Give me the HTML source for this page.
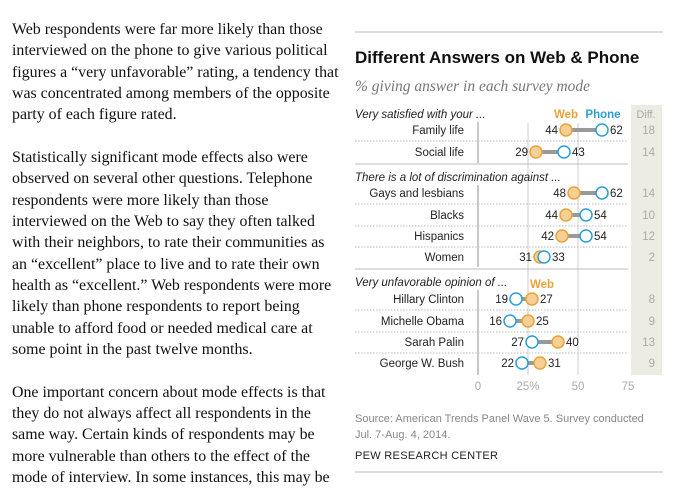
<!DOCTYPE html>
<html><head><meta charset="utf-8">
<style>
html,body{margin:0;padding:0;width:686px;height:490px;overflow:hidden;background:#fff}
body{position:relative}
#left{position:absolute;left:0;top:0;width:350px;height:490px;font-family:"Liberation Serif",serif;font-size:15.9px;color:#111}
#left div{position:absolute;left:12px;height:20px;line-height:20px;white-space:nowrap}
svg{position:absolute;left:0;top:0}
</style></head><body>
<div id="left"></div>
<svg id="chart" width="686" height="490" font-family="Liberation Sans, sans-serif"></svg>
<script>
const lines=["Web respondents were far more likely than those","interviewed on the phone to give various political","figures a “very unfavorable” rating, a tendency that","was concentrated among members of the opposite","party of each figure rated.","",
"Statistically significant mode effects also were","observed on several other questions. Telephone","respondents were more likely than those","interviewed on the Web to say they often talked","with their neighbors, to rate their communities as","an “excellent” place to live and to rate their own","health as “excellent.” Web respondents were more","likely than phone respondents to report being","unable to afford food or needed medical care at","some point in the past twelve months.","",
"One important concern about mode effects is that","they do not always affect all respondents in the","same way. Certain kinds of respondents may be","more vulnerable than others to the effect of the","mode of interview. In some instances, this may be"];
const left=document.getElementById('left');
lines.forEach((s,i)=>{if(!s)return;const d=document.createElement('div');


d.style.top=(20+i*21.33)+'px';d.textContent=s;left.appendChild(d);});

const categories=["Family life","Social life","Gays and lesbians","Blacks","Hispanics","Women","Hillary Clinton","Michelle Obama","Sarah Palin","George W. Bush"];
const webValues=[44,29,48,44,42,31,27,25,40,31];
const phoneValues=[62,43,62,54,54,33,19,16,27,22];
const groupLabels=["Very satisfied with your ...","There is a lot of discrimination against ...","Very unfavorable opinion of ..."];
const groupOf=[0,0,1,1,1,1,2,2,2,2];
const tickValues=[0,25,50,75];
const tickLabels=["0","25%","50","75"];

const svg=document.getElementById('chart');
const NS='http://www.w3.org/2000/svg';
function mk(tag,attrs,name,parent){const e=document.createElementNS(NS,tag);for(const k in attrs)e.setAttribute(k,attrs[k]);


(parent||svg).appendChild(e);return e;}
function txt(x,y,s,attrs,name){const t=mk('text',Object.assign({x:x,y:y},attrs),name);t.textContent=s;return t;}
const xs=v=>478+v*2;
const rowY=[130,152,193,215,236,257,299,321,342,363];
const groupY=[118,181,286];

mk('line',{x1:355,y1:32,x2:663,y2:32,stroke:'#bbb','stroke-width':1},'top-rule');
txt(355,63,'Different Answers on Web & Phone',{'font-size':'17','font-weight':'bold',fill:'#111'},'chart-title');
txt(355,91,'% giving answer in each survey mode',{'font-size':'15.5','font-style':'italic','font-family':'Liberation Serif, serif',fill:'#777'},'chart-subtitle');
mk('rect',{x:631,y:105,width:31,height:270,fill:'#ecece4'},'diff-column-bg');
txt(646,118,'Diff.',{'font-size':'11','fill':'#aaa','text-anchor':'middle'},'diff-header');
txt(566,118,'Web',{'font-size':'11.5','font-weight':'bold',fill:'#e8a33a','text-anchor':'middle'},'web-legend');
txt(603,118,'Phone',{'font-size':'11.5','font-weight':'bold',fill:'#2a9fd6','text-anchor':'middle'},'phone-legend');
txt(542,288,'Web',{'font-size':'11.5','font-weight':'bold',fill:'#e8a33a','text-anchor':'middle'},'web-legend-2');

tickValues.forEach((v,i)=>{
  if(i==1||i==2) mk('line',{x1:xs(v),y1:123,x2:xs(v),y2:375,stroke:'#ccc','stroke-width':1},'gridline-'+v);
  txt(xs(v),390,tickLabels[i],{'font-size':'11.5',fill:'#aaa','text-anchor':'middle'},'x-tick-'+v);
});
[[122,163],[185,267],[290,375]].forEach(s=>mk('line',{x1:478,y1:s[0],x2:478,y2:s[1],stroke:'#aaa','stroke-width':1.3},'gridline-0'));
groupLabels.forEach((g,i)=>{
  if(i>0){const y=groupY[i]-17;
    mk('rect',{x:355,y:y,width:160,height:14,fill:'#fff'},'group-gap');
    mk('line',{x1:355,y1:y,x2:628,y2:y,stroke:'#bbb','stroke-width':1},'group-separator');}
  txt(355,groupY[i],g,{'font-size':'11.5','font-style':'italic',fill:'#222'},'group-label-'+(i+1));
});
categories.forEach((c,i)=>{
  const y=rowY[i];
  const next=i+1<categories.length&&groupOf[i+1]===groupOf[i];
  if(next) mk('line',{x1:355,y1:y+11,x2:628,y2:y+11,stroke:'#bbb','stroke-width':1,'stroke-dasharray':'1.5,1.5'},'row-divider');
  txt(464,y+4,c,{'font-size':'11.5',fill:'#222','text-anchor':'end'},'category-label');
  const w=webValues[i],p=phoneValues[i],xw=xs(w),xp=xs(p);
  mk('line',{x1:xw,y1:y,x2:xp,y2:y,stroke:'#999','stroke-width':4},'dumbbell-bar');
  const lo=Math.min(w,p),hi=Math.max(w,p);
  txt(xs(lo)-8,y+4,String(lo),{'font-size':'11.5',fill:'#222','text-anchor':'end'},'value-low');
  txt(xs(hi)+8,y+4,String(hi),{'font-size':'11.5',fill:'#222'},'value-high');
  mk('circle',{cx:xw,cy:y,r:6,fill:'#f6cf97',stroke:'#e8a33a','stroke-width':1.5},'web-dot');
  mk('circle',{cx:xp,cy:y,r:6,fill:'#fff',stroke:'#2a9fd6','stroke-width':1.5},'phone-dot');
  txt(655,y+4,String(Math.abs(p-w)),{'font-size':'11.5',fill:'#aaa','text-anchor':'end'},'diff-value');
});
txt(355,422,'Source: American Trends Panel Wave 5. Survey conducted',{'font-size':'11',fill:'#888'},'source-note');
txt(355,438,'Jul. 7-Aug. 4, 2014.',{'font-size':'11',fill:'#888'},'source-date');
txt(355,459,'PEW RESEARCH CENTER',{'font-size':'11',fill:'#222','letter-spacing':'0.3'},'credit');
mk('line',{x1:355,y1:472,x2:663,y2:472,stroke:'#bbb','stroke-width':1},'bottom-rule');
</script>
</body></html>
